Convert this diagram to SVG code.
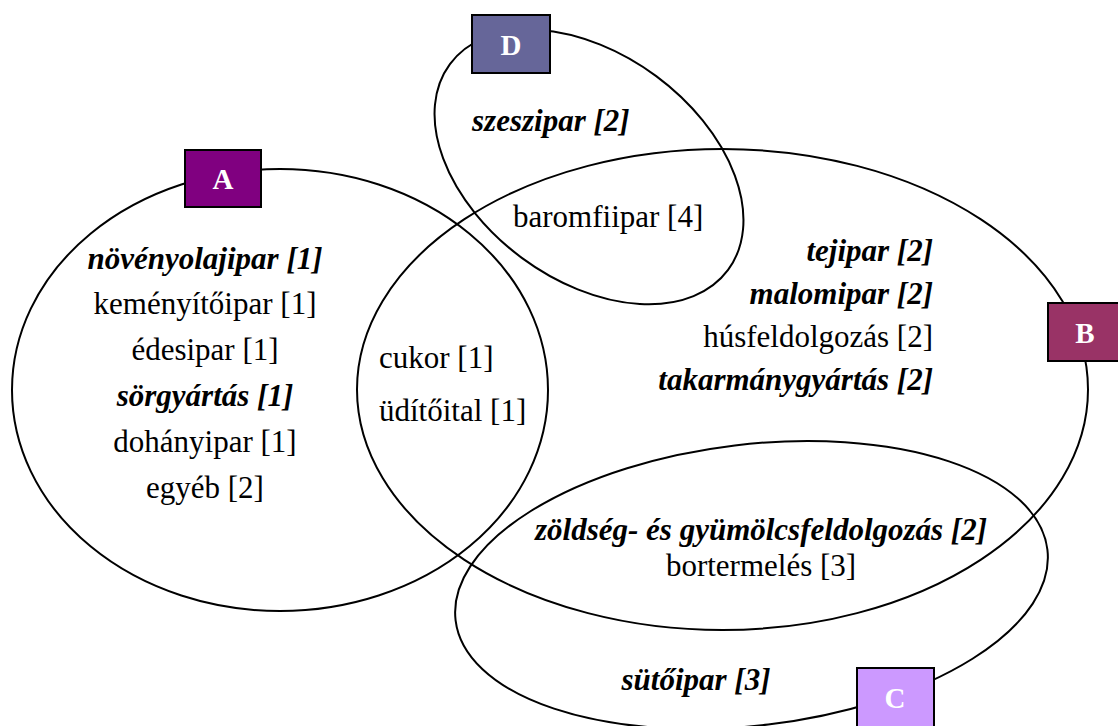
<svg xmlns="http://www.w3.org/2000/svg" width="1118" height="726" viewBox="0 0 1118 726">
<style>
text{font-family:"Liberation Serif","Times New Roman",Times,serif;font-size:31px;fill:#000}
.set{fill:none;stroke:#000;stroke-width:2}
.box{stroke:#000;stroke-width:2}
text.bl{font-weight:bold;font-size:29px;fill:#fff;text-anchor:middle}
text.bi{font-weight:bold;font-style:italic}
.m text{text-anchor:middle}
.e text{text-anchor:end}
</style>
<rect width="1118" height="726" fill="#fff"/>
<g id="sets">
<g id="set-A"><ellipse class="set" cx="280" cy="390" rx="268" ry="221"/></g>
<g id="set-B"><ellipse class="set" cx="722.5" cy="389.5" rx="365.5" ry="240.5"/></g>
<g id="set-C"><ellipse class="set" cx="751.5" cy="585" rx="298" ry="140.6" transform="rotate(-6.8 751.5 585)"/></g>
<g id="set-D"><ellipse class="set" cx="589" cy="167" rx="173" ry="113" transform="rotate(36.5 589 167)"/></g>
</g>
<g id="connectors"></g>
<g id="node-A"><rect class="box" x="185" y="150" width="76" height="57" fill="#800080"/><text class="bl" x="223" y="189">A</text></g>
<g id="node-D"><rect class="box" x="472" y="15" width="78" height="58" fill="#666699"/><text class="bl" x="511" y="55">D</text></g>
<g id="node-B"><rect class="box" x="1048" y="303" width="78" height="58" fill="#993366"/><text class="bl" x="1085" y="343">B</text></g>
<g id="node-C"><rect class="box" x="857" y="668" width="77" height="62" fill="#CC99FF"/><text class="bl" x="895" y="708">C</text></g>
<g id="labels-A" class="m">
<text class="bi" x="205" y="269">növényolajipar [1]</text>
<text x="205" y="314">keményítőipar [1]</text>
<text x="205" y="360">édesipar [1]</text>
<text class="bi" x="205" y="406">sörgyártás [1]</text>
<text x="205" y="452">dohányipar [1]</text>
<text x="205" y="498">egyéb [2]</text>
</g>
<g id="labels-AB">
<text x="379" y="368">cukor [1]</text>
<text x="379" y="421">üdítőital [1]</text>
</g>
<g id="labels-D">
<text class="bi" x="472" y="131">szeszipar [2]</text>
<text x="513" y="227">baromfiipar [4]</text>
</g>
<g id="labels-B" class="e">
<text class="bi" x="933" y="261">tejipar [2]</text>
<text class="bi" x="933" y="304">malomipar [2]</text>
<text x="933" y="347">húsfeldolgozás [2]</text>
<text class="bi" x="933" y="390">takarmánygyártás [2]</text>
</g>
<g id="labels-C" class="m">
<text class="bi" x="761" y="540">zöldség- és gyümölcsfeldolgozás [2]</text>
<text x="761" y="576">bortermelés [3]</text>
<text class="bi" x="696" y="690">sütőipar [3]</text>
</g>
</svg>
